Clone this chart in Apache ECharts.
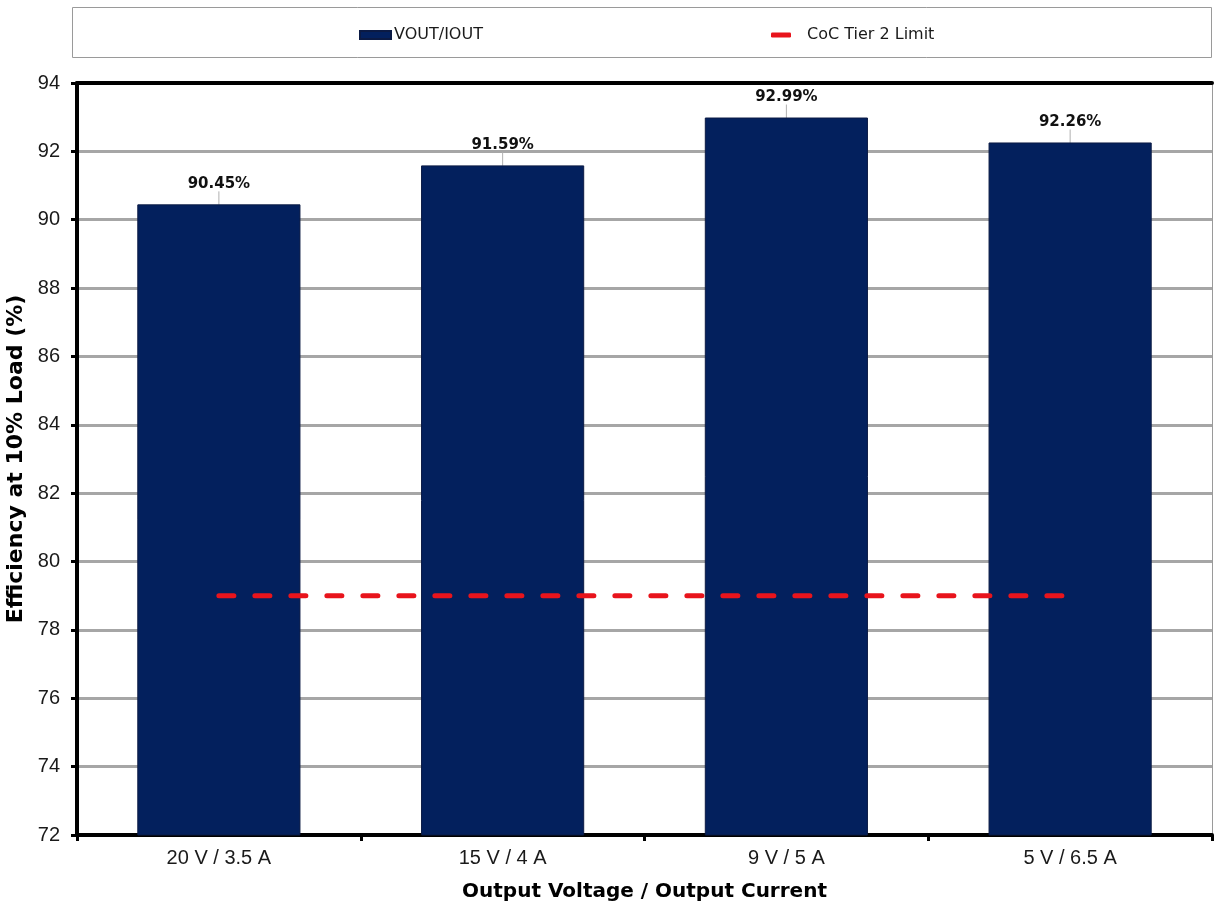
<!DOCTYPE html>
<html>
<head>
<meta charset="utf-8">
<title>Efficiency at 10% Load</title>
<script src="https://cdn.jsdelivr.net/npm/echarts@6/dist/echarts.min.js"></script>
<style>
  html, body { margin: 0; padding: 0; background: #fff; }
  #chart { width: 1214px; height: 907px; }
</style>
</head>
<body>
<div id="chart"></div>
<script>
// Output operating points along the x axis
const categories = ['20 V / 3.5 A', '15 V / 4 A', '9 V / 5 A', '5 V / 6.5 A'];
// Measured efficiency at 10% load (%)
const efficiency = [90.45, 91.59, 92.99, 92.26];
// CoC Tier 2 limit at 10% load (%)
const tier2Limit = [79, 79, 79, 79];
// Value axis range
const yMin = 72, yMax = 94, yStep = 2;

const chart = echarts.init(document.getElementById('chart'), null, { renderer: 'canvas' });

const tickFont = { fontFamily: 'Liberation Sans', fontSize: 20, color: '#1a1a1a' };
const titleFont = { fontFamily: 'DejaVu Sans', fontWeight: 'bold', fontSize: 20, color: '#000' };

chart.setOption({
  animation: false,
  backgroundColor: '#fff',
  graphic: [{
    type: 'rect',
    shape: { x: 72.5, y: 7.5, width: 1139, height: 50 },
    style: { fill: '#fff', stroke: '#9a9a9a', lineWidth: 1 },
    z: -1
  }],
  legend: [{
    data: ['VOUT/IOUT'],
    left: 354, top: 22,
    itemWidth: 31, itemHeight: 8, itemGap: 4,
    icon: 'rect',
    textStyle: { fontFamily: 'DejaVu Sans', fontSize: 16, color: '#1a1a1a', padding: [0, 0, 0, -2] }
  }, {
    data: ['CoC Tier 2 Limit'],
    left: 766, top: 22,
    itemWidth: 20, itemHeight: 5,
    icon: 'roundRect',
    itemStyle: { color: '#e8141c', borderWidth: 0 },
    textStyle: { fontFamily: 'DejaVu Sans', fontSize: 16, color: '#1a1a1a', padding: [0, 0, 0, 11] }
  }],
  grid: { left: 77, right: 2, top: 83, bottom: 72, containLabel: false, outerBoundsMode: 'none' },
  xAxis: [{
    type: 'category',
    data: categories,
    name: 'Output Voltage / Output Current',
    nameLocation: 'middle',
    nameGap: 47,
    nameTextStyle: titleFont,
    axisLine: { lineStyle: { color: '#000', width: 4 } },
    axisTick: { show: true, length: 6, lineStyle: { color: '#000', width: 3 } },
    axisLabel: Object.assign({ margin: 13 }, tickFont)
  }, {
    type: 'category',
    data: categories,
    position: 'top',
    axisLine: { show: true, lineStyle: { color: '#000', width: 4 } },
    axisTick: { show: false },
    axisLabel: { show: false }
  }],
  yAxis: [{
    type: 'value',
    min: yMin, max: yMax, interval: yStep,
    name: 'Efficiency at 10% Load (%)',
    nameLocation: 'middle',
    nameGap: 43,
    nameTextStyle: Object.assign({}, titleFont, { fontSize: 22 }),
    axisLine: { show: true, lineStyle: { color: '#000', width: 4 } },
    axisTick: { show: true, length: 6, lineStyle: { color: '#000', width: 3 } },
    axisLabel: Object.assign({ margin: 17 }, tickFont),
    splitLine: { show: true, lineStyle: { color: '#a6a6a6', width: 3 } }
  }, {
    type: 'value',
    min: yMin, max: yMax, interval: yStep,
    position: 'right',
    axisLine: { show: true, lineStyle: { color: '#9a9a9a', width: 1 } },
    axisTick: { show: false },
    axisLabel: { show: false },
    splitLine: { show: false }
  }],
  series: [{
    name: 'VOUT/IOUT',
    type: 'bar',
    data: efficiency,
    barWidth: '57.5%',
    itemStyle: { color: '#03205d', borderColor: '#0b1a44', borderWidth: 1 },
    label: {
      show: true,
      position: 'top',
      distance: 4,
      formatter: p => p.value.toFixed(2) + '%',
      fontFamily: 'DejaVu Sans',
      fontWeight: 'bold',
      fontSize: 15,
      color: '#111'
    },
    labelLayout: { dy: -9 },
    labelLine: { show: true, lineStyle: { color: '#b0b0b0', width: 1 } },
    z: 2
  }, {
    name: 'CoC Tier 2 Limit',
    type: 'line',
    data: tier2Limit,
    symbol: 'none',
    itemStyle: { color: '#e8141c' },
    lineStyle: { color: '#e8141c', width: 5, type: [15, 21], cap: 'round' },
    z: 5
  }]
});
</script>
</body>
</html>
